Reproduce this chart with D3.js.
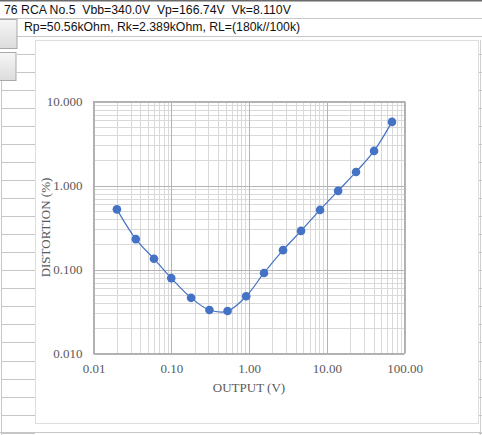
<!DOCTYPE html>
<html><head><meta charset="utf-8">
<script src="https://cdn.jsdelivr.net/npm/d3@7"></script>
<style>html,body{margin:0;padding:0;background:#fff;overflow:hidden}svg{display:block}</style>
</head><body>
<svg id="c" width="482" height="435"></svg>
<script>
const titleLine1 = "76 RCA No.5  Vbb=340.0V  Vp=166.74V  Vk=8.110V";
const titleLine2 = "Rp=50.56kOhm, Rk=2.389kOhm, RL=(180k//100k)";
const outputV = [0.02, 0.035, 0.06, 0.1, 0.18, 0.31, 0.53, 0.92, 1.56, 2.74, 4.67, 8.2, 14.0, 23.8, 40.6, 69.0];
const distortion = [0.52, 0.23, 0.134, 0.079, 0.046, 0.033, 0.032, 0.048, 0.091, 0.17, 0.288, 0.512, 0.863, 1.45, 2.58, 5.72];
const xTicks = [0.01, 0.1, 1, 10, 100];
const xTickLabels = ["0.01", "0.10", "1.00", "10.00", "100.00"];
const yTicks = [0.01, 0.1, 1, 10];
const yTickLabels = ["0.010", "0.100", "1.000", "10.000"];
const xTitle = "OUTPUT (V)";
const yTitle = "DISTORTION (%)";

const svg = d3.select("#c");

// spreadsheet chrome
svg.append("line").attr("x1",0).attr("x2",482).attr("y1",0.75).attr("y2",0.75).attr("stroke","#6a6a6a").attr("stroke-width",1.5);
svg.append("line").attr("x1",0).attr("x2",482).attr("y1",18.5).attr("y2",18.5).attr("stroke","#c6c6c6");
svg.append("line").attr("x1",17).attr("x2",482).attr("y1",36.5).attr("y2",36.5).attr("stroke","#c6c6c6");
const defs = svg.append("defs");
const g1 = defs.append("linearGradient").attr("id","btn").attr("x1",0).attr("y1",0).attr("x2",0).attr("y2",1);
g1.append("stop").attr("offset","0%").attr("stop-color","#f6f6f6");
g1.append("stop").attr("offset","100%").attr("stop-color","#dcdcdc");
svg.append("rect").attr("x",-1).attr("y",19.5).attr("width",18).attr("height",29).attr("fill","url(#btn)").attr("stroke","#a9a9a9");
svg.append("rect").attr("x",-1).attr("y",52.5).attr("width",17).attr("height",28).attr("fill","url(#btn)").attr("stroke","#a9a9a9");
svg.append("line").attr("x1",1.5).attr("x2",1.5).attr("y1",81).attr("y2",435).attr("stroke","#c6c6c6");
svg.append("line").attr("x1",480.5).attr("x2",480.5).attr("y1",40).attr("y2",435).attr("stroke","#d0d0d0");
const rowYs = d3.range(0, 22).map(k => 54 + k * 18.03);
svg.selectAll("line.row").data(rowYs).enter().append("line").attr("class","row")
  .attr("x1",(d,i)=> i===0 ? 17 : (i===1 ? 16 : 1)).attr("x2",35)
  .attr("y1",d=>Math.round(d)+0.5).attr("y2",d=>Math.round(d)+0.5).attr("stroke","#c6c6c6");
svg.selectAll("line.rowr").data(rowYs).enter().append("line").attr("class","rowr")
  .attr("x1",479).attr("x2",482)
  .attr("y1",d=>Math.round(d)+0.5).attr("y2",d=>Math.round(d)+0.5).attr("stroke","#c6c6c6");
svg.append("line").attr("x1",0).attr("x2",482).attr("y1",432.5).attr("y2",432.5).attr("stroke","#c6c6c6");

svg.append("text").attr("x",4).attr("y",13.5).attr("font-family","Liberation Sans, Arial, sans-serif").attr("font-size",12.25)
  .attr("fill","#111").style("white-space","pre").text(titleLine1);
svg.append("text").attr("x",24).attr("y",31).attr("font-family","Liberation Sans, Arial, sans-serif").attr("font-size",12.25)
  .attr("fill","#111").style("white-space","pre").text(titleLine2);

// chart area
svg.append("rect").attr("x",35.5).attr("y",40.5).attr("width",443).attr("height",383).attr("fill","#fff").attr("stroke","#dedede");

const pLeft = 93.5, pRight = 404.5, pTop = 101.5, pBottom = 353.5;
const x = d3.scaleLog().domain([0.01, 100]).range([pLeft, pRight]);
const y = d3.scaleLog().domain([0.01, 10]).range([pBottom, pTop]);

const minorX = [], minorY = [];
for (let e = -2; e < 2; e++) for (let m = 2; m <= 9; m++) minorX.push(m * Math.pow(10, e));
for (let e = -2; e < 1; e++) for (let m = 2; m <= 9; m++) minorY.push(m * Math.pow(10, e));

const grid = svg.append("g");
grid.selectAll("line.mx").data(minorX).enter().append("line")
  .attr("x1",d=>Math.round(x(d))+0.5).attr("x2",d=>Math.round(x(d))+0.5).attr("y1",pTop).attr("y2",pBottom)
  .attr("stroke","#d9d9d9");
grid.selectAll("line.my").data(minorY).enter().append("line")
  .attr("y1",d=>Math.round(y(d))+0.5).attr("y2",d=>Math.round(y(d))+0.5).attr("x1",pLeft).attr("x2",pRight)
  .attr("stroke","#d9d9d9");
grid.selectAll("line.Mx").data(xTicks).enter().append("line")
  .attr("x1",d=>Math.round(x(d))+0.5).attr("x2",d=>Math.round(x(d))+0.5).attr("y1",pTop).attr("y2",pBottom)
  .attr("stroke","#b4b4b4");
grid.selectAll("line.My").data(yTicks).enter().append("line")
  .attr("y1",d=>Math.round(y(d))+0.5).attr("y2",d=>Math.round(y(d))+0.5).attr("x1",pLeft).attr("x2",pRight)
  .attr("stroke","#b4b4b4");
grid.append("rect").attr("x",pLeft).attr("y",pTop).attr("width",pRight-pLeft).attr("height",pBottom-pTop)
  .attr("fill","none").attr("stroke","#b0b0b0");

const fontSerif = "Liberation Serif, Times New Roman, serif";
const xAxis = d3.axisBottom(x).tickValues(xTicks).tickFormat((d,i)=>xTickLabels[i]).tickSize(0).tickPadding(10);
const gx = svg.append("g").attr("transform",`translate(0,${pBottom})`).call(xAxis);
gx.select(".domain").remove();
gx.selectAll("text").attr("font-family",fontSerif).attr("font-size",13).attr("fill","#595959");
const yAxis = d3.axisLeft(y).tickValues(yTicks).tickFormat((d,i)=>yTickLabels[i]).tickSize(0).tickPadding(11);
const gy = svg.append("g").attr("transform",`translate(${pLeft},0)`).call(yAxis);
gy.select(".domain").remove();
gy.selectAll("text").attr("font-family",fontSerif).attr("font-size",13).attr("fill","#595959");

svg.append("text").attr("x",(pLeft+pRight)/2).attr("y",392).attr("text-anchor","middle")
  .attr("font-family",fontSerif).attr("font-size",13).attr("fill","#595959").text(xTitle);
svg.append("text").attr("transform",`translate(50,${(pTop+pBottom)/2}) rotate(-90)`).attr("text-anchor","middle")
  .attr("font-family",fontSerif).attr("font-size",13).attr("fill","#595959").text(yTitle);

const pts = outputV.map((v,i)=>[v, distortion[i]]);
const line = d3.line().x(d=>x(d[0])).y(d=>y(d[1])).curve(d3.curveCatmullRom.alpha(0.5));
svg.append("path").datum(pts).attr("d",line).attr("fill","none").attr("stroke","#4472c4").attr("stroke-width",1.2);
svg.selectAll("circle.pt").data(pts).enter().append("circle").attr("class","pt")
  .attr("cx",d=>x(d[0])).attr("cy",d=>y(d[1])).attr("r",4.3).attr("fill","#4472c4");
</script>
</body></html>
